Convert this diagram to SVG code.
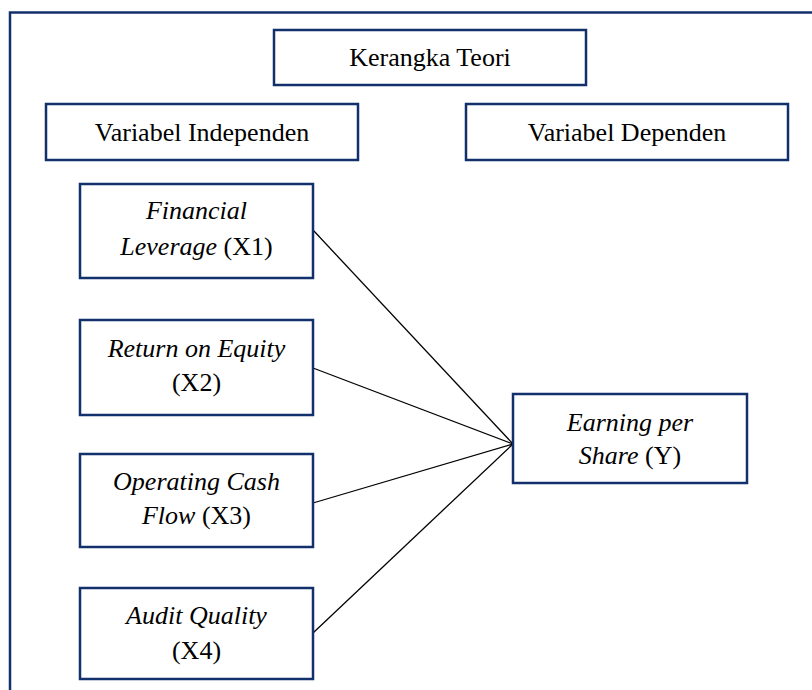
<svg xmlns="http://www.w3.org/2000/svg" width="812" height="690" viewBox="0 0 812 690">
<style>
.box{fill:#ffffff;stroke:#12306c;stroke-width:2.5}
.t{font-family:"Liberation Serif","Times New Roman",serif;font-size:26px;fill:#000;text-anchor:middle}
.i{font-style:italic}
.c{stroke:#000;stroke-width:1.3;fill:none}
</style>
<rect width="812" height="690" fill="#ffffff"/>
<rect id="frame" x="10" y="12.5" width="820" height="700" fill="none" stroke="#12306c" stroke-width="2.5"/>
<g id="connectors">
<line class="c" x1="313" y1="230" x2="513" y2="444"/>
<line class="c" x1="313" y1="368" x2="513" y2="444"/>
<line class="c" x1="313" y1="503" x2="513" y2="444"/>
<line class="c" x1="313" y1="633" x2="513" y2="444"/>
</g>
<g id="kerangka">
<rect class="box" x="274" y="30" width="312" height="55"/>
<text class="t" x="430" y="66">Kerangka Teori</text>
</g>
<g id="var-independen">
<rect class="box" x="46" y="104" width="312" height="56"/>
<text class="t" x="202" y="141">Variabel Independen</text>
</g>
<g id="var-dependen">
<rect class="box" x="466" y="104" width="322" height="56"/>
<text class="t" x="627" y="141">Variabel Dependen</text>
</g>
<g id="x1">
<rect class="box" x="80" y="184" width="233" height="94"/>
<text class="t" x="196.5" y="219"><tspan class="i">Financial</tspan></text>
<text class="t" x="196.5" y="255"><tspan class="i">Leverage</tspan> (X1)</text>
</g>
<g id="x2">
<rect class="box" x="80" y="320" width="233" height="95"/>
<text class="t" x="196.5" y="357"><tspan class="i">Return on Equity</tspan></text>
<text class="t" x="196.5" y="391">(X2)</text>
</g>
<g id="x3">
<rect class="box" x="80" y="454" width="233" height="93"/>
<text class="t" x="196.5" y="490"><tspan class="i">Operating Cash</tspan></text>
<text class="t" x="196.5" y="524"><tspan class="i">Flow</tspan> (X3)</text>
</g>
<g id="x4">
<rect class="box" x="80" y="588" width="233" height="91"/>
<text class="t" x="196.5" y="624"><tspan class="i">Audit Quality</tspan></text>
<text class="t" x="196.5" y="659">(X4)</text>
</g>
<g id="y">
<rect class="box" x="513" y="394" width="234" height="89"/>
<text class="t" x="630" y="431"><tspan class="i">Earning per</tspan></text>
<text class="t" x="630" y="464"><tspan class="i">Share</tspan> (Y)</text>
</g>
</svg>
